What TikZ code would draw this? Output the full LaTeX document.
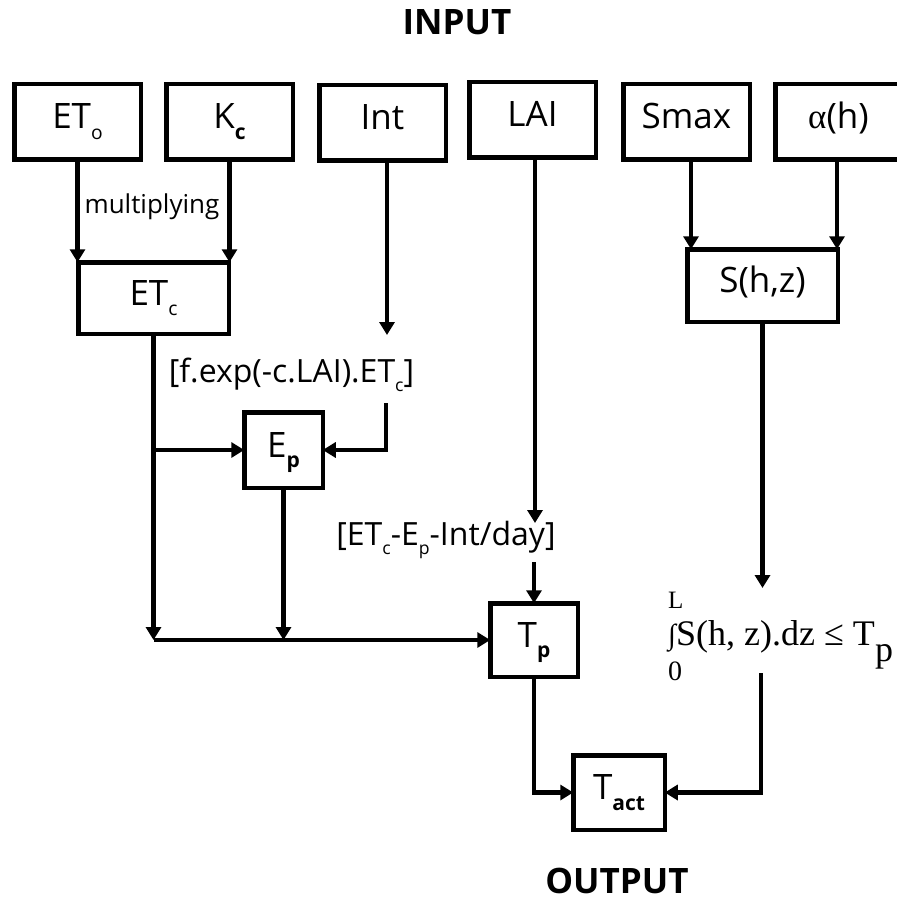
\documentclass[tikz,border=0pt]{standalone}
\usepackage{fontspec}
\setmainfont{Open Sans}
\newfontfamily\seriffont{Liberation Serif}
\usetikzlibrary{arrows.meta}
\newcommand\lowsub[1]{\raisebox{-0.3em}{\scalebox{0.55}{#1}}}
\newcommand\boldsub[1]{\raisebox{-0.3em}{\scalebox{0.6}{\bfseries #1}}}
\begin{document}
\begin{tikzpicture}[x=1pt,y=-1pt,
  box/.style={draw, line width=4.5pt, inner sep=0pt, outer sep=0pt,
    font=\fontsize{35}{40}\selectfont, text height=26pt, text depth=12pt,
    minimum width=126.5pt, minimum height=75.5pt},
  lbl/.style={inner sep=0pt, font=\fontsize{26}{30}\selectfont},
  blbl/.style={inner sep=0pt, font=\fontsize{32}{36}\selectfont},
  title/.style={inner sep=0pt, font=\fontsize{35}{40}\selectfont\bfseries},
  fml/.style={inner sep=0pt, font=\seriffont\fontsize{36}{40}\selectfont},
  conn/.style={line width=4.5pt, -{Triangle[length=13pt,width=15pt]}}]
\useasboundingbox (0,0) rectangle (896,901);
\fill[white] (0,0) rectangle (896,901);

\node[title, anchor=base] (input) at (457,35) {INPUT};
\node[title, anchor=base] (output) at (617,893) {OUTPUT};

% input boxes
\node[box] (ETo) at (77.5,122) {ET\lowsub{o}};
\node[box] (Kc) at (229.5,122) {K\boldsub{c}};
\node[box] (Int) at (382.5,123) {Int};
\node[box] (LAI) at (532.5,120) {LAI};
\node[box] (Smax) at (686.5,122) {Smax};
\node[box] (alpha) at (838.5,122) {{\seriffont α}(h)};

% intermediate boxes
\node[box, minimum width=150.5pt, minimum height=71.5pt] (ETc) at (153.5,298) {ET\lowsub{c}};
\node[box, minimum width=150.5pt, minimum height=72.5pt] (Shz) at (762.5,285.5) {S(h,z)};
\node[box, minimum width=78.5pt, minimum height=75.5pt] (Ep) at (283.5,450) {E\boldsub{p}};
\node[box, minimum width=87.5pt, minimum height=73.5pt] (Tp) at (534,640) {T\boldsub{p}};
\node[box, minimum width=91.5pt, minimum height=74.5pt] (Tact) at (619,792.5) {T\boldsub{act}};

% labels
\node[lbl] (mult) at (152,207) {multiplying};
\node[blbl] (fexp) at (291.5,375) {[f.exp(-c.LAI).ET\lowsub{c}]};
\node[blbl] (etcep) at (446,540) {[ET\lowsub{c}-E\lowsub{p}-Int/day]};

% integral formula
\node[fml, anchor=base west] (intg) at (668,645) {\raisebox{1pt}{\scalebox{0.8}{∫}}S(h, z).dz ≤ T};
\node[fml, anchor=base west] (intp) at ([yshift=-16pt]intg.base east) {p};
\node[fml, anchor=base west, font=\seriffont\fontsize{25}{28}\selectfont] (intL) at (668,608) {L};
\node[fml, anchor=base west, font=\seriffont\fontsize{28}{30}\selectfont] (int0) at (668,680) {0};

% coordinates
\coordinate (intA) at (387,335);
\coordinate (intB) at (386,403);
\coordinate (laiA) at (535,523);
\coordinate (tpA) at (534,562);
\coordinate (shzA) at (762.5,588);
\coordinate (shzB) at (761,673);

% connectors
\draw[conn] (ETo.south) -- (ETo.south |- ETc.north);
\draw[conn] (Kc.south) -- (Kc.south |- ETc.north);
\draw[conn] (Smax.south -| 691,0) -- (691,0 |- Shz.north);
\draw[conn] (alpha.south -| 837,0) -- (837,0 |- Shz.north);
\draw[conn] (Int.south -| intA) -- (intA);
\draw[conn] (intB) |- (Ep.east);
\draw[conn] (ETc.south) -- (ETc.south |- Tp.west);
\draw[conn] (ETc.south |- Ep.west) -- (Ep.west);
\draw[conn] (ETc.south |- Tp.west) -- (Tp.west);
\draw[conn] (Ep.south) -- (Ep.south |- Tp.west);
\draw[conn] (LAI.south -| laiA) -- (laiA);
\draw[conn] (tpA) -- (Tp.north);
\draw[conn] (Shz.south) -- (shzA);
\draw[conn] (Tp.south) |- (Tact.west);
\draw[conn] (shzB) |- (Tact.east);
\end{tikzpicture}
\end{document}
